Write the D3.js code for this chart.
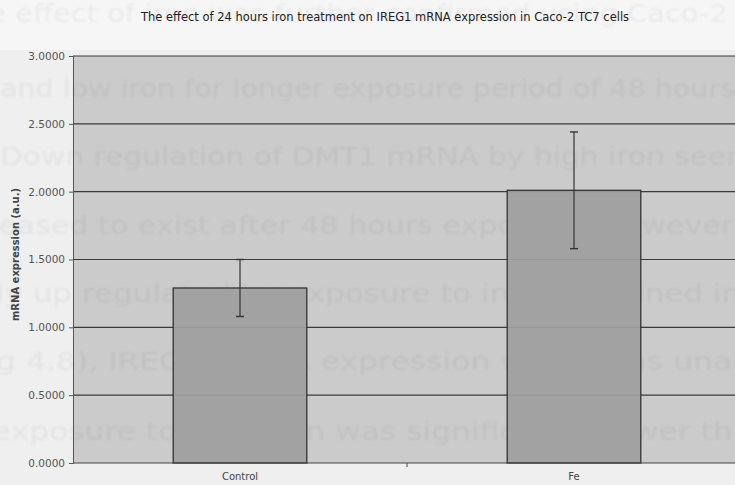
<!DOCTYPE html>
<html>
<head>
<meta charset="utf-8">
<script src="https://cdn.jsdelivr.net/npm/d3@7"></script>
<style>
  body { margin: 0; background: #efefef; }
  svg { display: block; }
</style>
</head>
<body>
<div id="chart"></div>
<script>
// chart data
var categories = ["Control", "Fe"];
var means = [1.29, 2.01];
var errors = [0.21, 0.43];
var yTicks = [0, 0.5, 1.0, 1.5, 2.0, 2.5, 3.0];
var chartTitle = "The effect of 24 hours iron treatment on IREG1 mRNA expression in Caco-2 TC7 cells";
var yLabel = "mRNA expression (a.u.)";

// text showing through from the back of the scanned page
var ghostLines = [
  "e effect of iron was further confirmed using Caco-2",
  "and low iron for longer exposure period of 48 hours",
  "Down regulation of DMT1 mRNA by high iron seen",
  "eased to exist after 48 hours exposure. However,",
  "ly up regulated by exposure to iron examined in",
  "g 4.8), IREG1 mRNA expression which was unal",
  "exposure to high iron was significantly lower tha"
];

var width = 735, height = 485;
var margin = {top: 56, right: -6, bottom: 22, left: 73};

var svg = d3.select("#chart").append("svg")
  .attr("width", width)
  .attr("height", height);

var defs = svg.append("defs");
defs.append("filter").attr("id", "soft")
  .append("feGaussianBlur").attr("stdDeviation", 0.9);

svg.append("rect").attr("width", width).attr("height", height).attr("fill", "#efefef");
svg.append("rect").attr("width", width).attr("height", 50).attr("fill", "#f6f6f6");

var x = d3.scaleBand()
  .domain(categories)
  .range([margin.left, width - margin.right])
  .paddingInner(0.6)
  .paddingOuter(0.3);

var y = d3.scaleLinear()
  .domain([0, 3])
  .range([height - margin.bottom, margin.top]);

// plot background
svg.append("rect")
  .attr("x", margin.left)
  .attr("y", y(3))
  .attr("width", width - margin.left)
  .attr("height", y(0) - y(3))
  .attr("fill", "#cbcbcb");

// bars
svg.selectAll(".bar")
  .data(categories)
  .enter().append("rect")
  .attr("class", "bar")
  .attr("x", function(d) { return x(d); })
  .attr("y", function(d, i) { return y(means[i]); })
  .attr("width", x.bandwidth())
  .attr("height", function(d, i) { return y(0) - y(means[i]); })
  .attr("fill", "#a4a4a4");

// ghost text
var ghostY = [22, 97, 165, 234, 302, 370, 440];
var ghostX = [-12, 0, 0, -2, -4, -4, -8];
var ghostW = [740, 735, 745, 745, 745, 745, 760];
svg.append("g").attr("filter", "url(#soft)")
  .selectAll(".ghost")
  .data(ghostLines)
  .enter().append("text")
  .attr("class", "ghost")
  .attr("x", function(d, i) { return ghostX[i]; })
  .attr("y", function(d, i) { return ghostY[i]; })
  .attr("textLength", function(d, i) { return ghostW[i]; })
  .attr("lengthAdjust", "spacingAndGlyphs")
  .attr("font-family", "DejaVu Sans, Verdana, sans-serif")
  .attr("font-size", 25)
  .attr("fill", "#000")
  .attr("fill-opacity", 0.05)
  .text(function(d) { return d; });

// gridlines
svg.append("g")
  .selectAll("line")
  .data(yTicks.filter(function(t) { return t > 0; }))
  .enter().append("line")
  .attr("x1", margin.left)
  .attr("x2", width)
  .attr("y1", function(d) { return y(d); })
  .attr("y2", function(d) { return y(d); })
  .attr("stroke", "#3a3a3a")
  .attr("stroke-width", 1.2);

// bar outlines drawn over gridlines
svg.selectAll(".barOutline")
  .data(categories)
  .enter().append("rect")
  .attr("x", function(d) { return x(d); })
  .attr("y", function(d, i) { return y(means[i]); })
  .attr("width", x.bandwidth())
  .attr("height", function(d, i) { return y(0) - y(means[i]); })
  .attr("fill", "#a2a2a2")
  .attr("fill-opacity", 0.9)
  .attr("stroke", "#333")
  .attr("stroke-width", 1.3);

// error bars
var eb = svg.selectAll(".err")
  .data(categories)
  .enter().append("g");
eb.append("line")
  .attr("x1", function(d) { return x(d) + x.bandwidth() / 2; })
  .attr("x2", function(d) { return x(d) + x.bandwidth() / 2; })
  .attr("y1", function(d, i) { return y(means[i] + errors[i]); })
  .attr("y2", function(d, i) { return y(means[i] - errors[i]); })
  .attr("stroke", "#333").attr("stroke-width", 1.2);
eb.selectAll(".cap")
  .data(function(d, i) { return [{c: d, v: means[i] + errors[i]}, {c: d, v: means[i] - errors[i]}]; })
  .enter().append("line")
  .attr("x1", function(d) { return x(d.c) + x.bandwidth() / 2 - 4; })
  .attr("x2", function(d) { return x(d.c) + x.bandwidth() / 2 + 4; })
  .attr("y1", function(d) { return y(d.v); })
  .attr("y2", function(d) { return y(d.v); })
  .attr("stroke", "#333").attr("stroke-width", 1.4);

// y axis
var yAxis = svg.append("g")
  .attr("transform", "translate(" + margin.left + ",0)")
  .call(d3.axisLeft(y).tickValues(yTicks).tickSize(4).tickPadding(4).tickFormat(d3.format(".4f")));
yAxis.selectAll("path, line").attr("stroke", "#555");
yAxis.selectAll("text")
  .attr("font-family", "DejaVu Sans, Verdana, sans-serif")
  .attr("font-size", 10.5)
  .attr("fill", "#555");

// x axis
var xAxis = svg.append("g")
  .attr("transform", "translate(0," + y(0) + ")")
  .call(d3.axisBottom(x).tickSize(0).tickPadding(10));
xAxis.select(".domain").attr("stroke", "#444").attr("stroke-width", 1.2)
  .attr("d", "M" + margin.left + ",0H" + width);
xAxis.selectAll("text")
  .attr("font-family", "DejaVu Sans, Verdana, sans-serif")
  .attr("font-size", 10)
  .attr("fill", "#444");
// category divider tick
xAxis.append("line")
  .attr("x1", (x("Control") + x("Fe") + x.bandwidth()) / 2)
  .attr("x2", (x("Control") + x("Fe") + x.bandwidth()) / 2)
  .attr("y1", 0).attr("y2", 4)
  .attr("stroke", "#444");

// y label
svg.append("text")
  .attr("transform", "translate(19," + (y(1.5) - 5) + ") rotate(-90)")
  .attr("text-anchor", "middle")
  .attr("font-family", "DejaVu Sans, Verdana, sans-serif")
  .attr("font-size", 10)
  .attr("font-weight", "bold")
  .attr("fill", "#444")
  .text(yLabel);

// title
svg.append("text")
  .attr("x", 385)
  .attr("y", 21)
  .attr("text-anchor", "middle")
  .attr("font-family", "DejaVu Sans, Verdana, sans-serif")
  .attr("font-size", 11.5)
  .attr("fill", "#222")
  .text(chartTitle);
</script>
</body>
</html>
